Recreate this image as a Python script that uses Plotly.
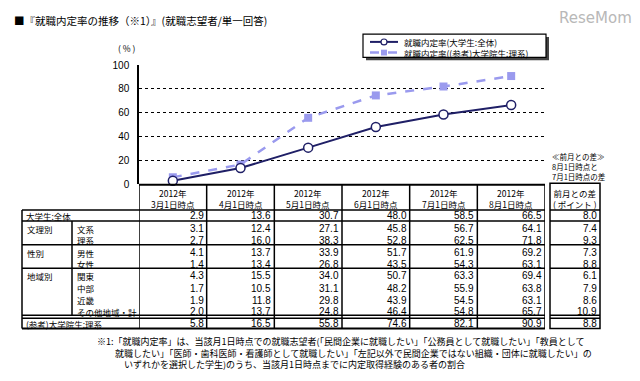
import plotly.graph_objects as go

W, H = 640, 381

# ---------------- data ----------------
periods_year = ["2012年"] * 6
periods_day = ["3月1日時点", "4月1日時点", "5月1日時点", "6月1日時点", "7月1日時点", "8月1日時点"]

row_labels = ["大学生:全体", "文系", "理系", "男性", "女性", "関東", "中部", "近畿", "その他地域・計", "(参考)大学院生:理系"]
group_labels = ["", "文理別", "", "性別", "", "地域別", "", "", "", ""]

v_all = [2.9, 13.6, 30.7, 48.0, 58.5, 66.5]
v_bun = [3.1, 12.4, 27.1, 45.8, 56.7, 64.1]
v_ri = [2.7, 16.0, 38.3, 52.8, 62.5, 71.8]
v_male = [4.1, 13.7, 33.9, 51.7, 61.9, 69.2]
v_female = [1.4, 13.4, 26.8, 43.5, 54.3, 63.1]
v_kanto = [4.3, 15.5, 34.0, 50.7, 63.3, 69.4]
v_chubu = [1.7, 10.5, 31.1, 48.2, 55.9, 63.8]
v_kinki = [1.9, 11.8, 29.8, 43.9, 54.5, 63.1]
v_other = [2.0, 13.7, 24.8, 46.4, 54.8, 65.7]
v_grad = [5.8, 16.5, 55.8, 74.6, 82.1, 90.9]
table_rows = [v_all, v_bun, v_ri, v_male, v_female, v_kanto, v_chubu, v_kinki, v_other, v_grad]

diff_values = [8.0, 7.4, 9.3, 7.3, 8.8, 6.1, 7.9, 8.6, 10.9, 8.8]

series_names = ["就職内定率(大学生:全体)", "就職内定率((参考)大学院生:理系)"]
y_ticks = [0, 20, 40, 60, 80, 100]

footnote = [
    "※1:「就職内定率」は、当該月1日時点での就職志望者(「民間企業に就職したい」「公務員として就職したい」「教員として",
    "　　就職したい」「医師・歯科医師・看護師として就職したい」「左記以外で民間企業ではない組織・団体に就職したい」の",
    "　　　いずれかを選択した学生)のうち、当該月1日時点までに内定取得経験のある者の割合",
]

# ---------------- layout helpers ----------------
def px(x):
    return x / W

def py(y):
    return 1 - y / H

NAVY = "#1f1f66"
PERI = "#9a9aee"
FONT_JP = "Noto Sans CJK JP"
FONT_NUM = "Liberation Sans"

X_LEFT, X_RIGHT = 139, 545
Y_TOP, Y_ZERO = 62, 184.5
xcols = list(range(1, len(periods_day) + 1))

fig = go.Figure()

fig.add_trace(go.Scatter(
    x=xcols, y=v_grad, mode="lines+markers", name=series_names[1],
    line=dict(color=PERI, width=2.5, dash="dash"),
    marker=dict(symbol="square", size=8, color=PERI),
    showlegend=False, cliponaxis=False,
))
fig.add_trace(go.Scatter(
    x=xcols, y=v_all, mode="lines+markers", name=series_names[0],
    line=dict(color=NAVY, width=2),
    marker=dict(symbol="circle", size=9, color="white", line=dict(color=NAVY, width=1.5)),
    showlegend=False, cliponaxis=False,
))

shapes = []
ann = []

def hline(y, x0, x1, w=1.5, color="black", xref="paper"):
    if xref == "paper":
        x0, x1 = px(x0), px(x1)
    shapes.append(dict(type="line", xref=xref, yref="paper", x0=x0, x1=x1,
                       y0=py(y), y1=py(y), line=dict(color=color, width=w)))

def vline(x, y0, y1, w=1.5, color="black", xref="paper"):
    if xref == "paper":
        x = px(x)
    shapes.append(dict(type="line", xref=xref, yref="paper", x0=x, x1=x,
                       y0=py(y0), y1=py(y1), line=dict(color=color, width=w)))

def text(t, x, y, size=9, anchor="left", font=FONT_JP, color="black", xref="paper", xshift=0):
    if xref == "paper":
        x = px(x)
    ann.append(dict(text=t, x=x, y=py(y), xref=xref, yref="paper", xanchor=anchor,
                    yanchor="middle", showarrow=False, xshift=xshift,
                    align=anchor if anchor != "middle" else "center",
                    font=dict(family=font, size=size, color=color)))

# ---------------- table ----------------
TBL_L = 22
SUB_X = 72
HDR_BOT = 211
row_lines = [222.5, 247, 271, 319.5, 322.5]
TBL_BOT = 333
row_y = [217, 230.5, 242.5, 255, 267, 279, 291.5, 304, 316, 328]

hline(Y_ZERO + 0.5, X_LEFT, X_RIGHT, w=2)
hline(HDR_BOT, TBL_L, X_RIGHT)
for y in row_lines:
    hline(y, TBL_L, X_RIGHT)
hline(TBL_BOT, TBL_L, X_RIGHT, w=2)
vline(TBL_L, HDR_BOT, TBL_BOT)
vline(SUB_X, row_lines[0], row_lines[3])
for i in range(len(xcols) + 1):
    vline(0.5 + i, Y_ZERO, TBL_BOT, xref="x")

for i, c in enumerate(xcols):
    text(periods_year[i] + "<br>" + periods_day[i], c, 199, size=8.5, anchor="center", xref="x")

for r, vals in enumerate(table_rows):
    for i, c in enumerate(xcols):
        text(f"{vals[i]:.1f}", c + 0.5, row_y[r], size=10, anchor="right",
             font=FONT_NUM, xref="x", xshift=-1)

for r, lab in enumerate(row_labels):
    if r == 0 or r == len(row_labels) - 1:
        text(lab, 24, row_y[r], size=8.5)
    else:
        text(lab, 75, row_y[r], size=8.5)
for r, g in enumerate(group_labels):
    if g:
        text(g, 25, row_y[r], size=8.5)

# diff column
DX0, DX1 = 550, 600
shapes.append(dict(type="rect", xref="paper", yref="paper", x0=px(DX0), x1=px(DX1),
                   y0=py(Y_ZERO - 1), y1=py(TBL_BOT), line=dict(color="black", width=1.5)))
hline(HDR_BOT, DX0, DX1)
for y in row_lines:
    hline(y, DX0, DX1)
text("前月との差<br>( ポイント )", 575, 199, size=8.5, anchor="center")
for r, v in enumerate(diff_values):
    text(f"{v:.1f}", 599, row_y[r], size=10, anchor="right", font=FONT_NUM)

text("≪前月との差≫<br>8月1日時点と<br>7月1日時点の差", 550, 166.5, size=7.5)

# ---------------- legend (manual) ----------------
LG_X0, LG_X1, LG_Y0, LG_Y1 = 363, 546, 30, 54
shapes.append(dict(type="rect", xref="paper", yref="paper", x0=px(LG_X0 + 3), x1=px(LG_X1 + 3),
                   y0=py(LG_Y0 + 3), y1=py(LG_Y1 + 3), fillcolor="#444444", line=dict(width=0)))
shapes.append(dict(type="rect", xref="paper", yref="paper", x0=px(LG_X0), x1=px(LG_X1),
                   y0=py(LG_Y0), y1=py(LG_Y1), fillcolor="white", line=dict(color="black", width=1.2)))
shapes.append(dict(type="line", xref="paper", yref="paper", x0=px(370), x1=px(398), y0=py(38), y1=py(38),
                   line=dict(color=NAVY, width=2)))
shapes.append(dict(type="circle", xref="paper", yref="paper", x0=px(381), x1=px(387), y0=py(35), y1=py(41),
                   fillcolor="white", line=dict(color=NAVY, width=1.2)))
shapes.append(dict(type="line", xref="paper", yref="paper", x0=px(370), x1=px(398), y0=py(49), y1=py(49),
                   line=dict(color=PERI, width=2.5, dash="dash")))
shapes.append(dict(type="rect", xref="paper", yref="paper", x0=px(381), x1=px(387), y0=py(46), y1=py(52),
                   fillcolor=PERI, line=dict(width=0)))
text(series_names[0] + "<br>" + series_names[1], 402, 43.5, size=8.5)

# ---------------- titles / notes ----------------
text("■『就職内定率の推移（※1）』(就職志望者/単一回答)", 12, 16, size=10.5)
text("( % )", 127, 44, size=8.5, anchor="center")
text("ReseMom", 634, 13, size=15, anchor="right", font="DejaVu Sans", color="#b8b8b8")

text("<br>".join(footnote), 95, 358.5, size=9)

fig.update_layout(
    width=W, height=H,
    margin=dict(l=0, r=0, t=0, b=0),
    paper_bgcolor="white", plot_bgcolor="white",
    shapes=shapes, annotations=ann,
    xaxis=dict(domain=[px(X_LEFT), px(X_RIGHT)], range=[0.5, len(xcols) + 0.5],
               visible=False, fixedrange=True),
    yaxis=dict(domain=[py(Y_ZERO), py(Y_TOP)], range=[0, 100], tickvals=y_ticks,
               showgrid=True, gridcolor="black", griddash="dot", gridwidth=1,
               showline=True, linecolor="black", linewidth=1.5,
               zeroline=False, ticks="", ticklabelstandoff=6,
               tickfont=dict(family=FONT_NUM, size=10, color="black"), fixedrange=True),
    showlegend=False,
)

fig.write_html("out.html", config={"displayModeBar": False},
               post_script="document.body.style.margin='0';document.body.style.overflow='hidden';")
